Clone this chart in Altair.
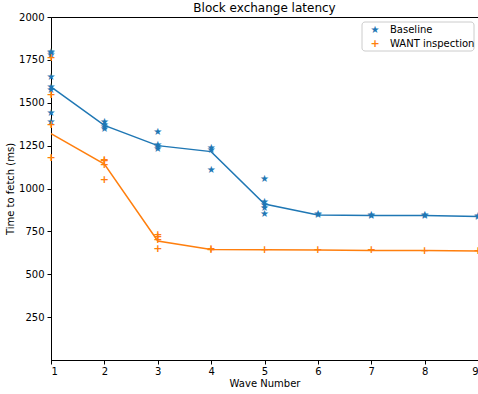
import altair as alt
import pandas as pd

# ---- data ----
series_names = ["Baseline", "WANT inspection"]
series_glyphs = ["★", "+"]

baseline_waves = [1, 1, 1, 1, 1, 1, 1, 1,
                  2, 2, 2, 2,
                  3, 3, 3, 3,
                  4, 4, 4,
                  5, 5, 5, 5, 5,
                  6, 6, 7, 7, 8, 8, 9, 9]
baseline_vals = [1797, 1788, 1778, 1651, 1593, 1574, 1438, 1389,
                 1389, 1370, 1356, 1345,
                 1331, 1253, 1243, 1228,
                 1234, 1224, 1108,
                 1055, 923, 904, 888, 851,
                 850, 845, 843, 842, 843, 840, 838, 835]

want_waves = [1, 1, 1, 1,
              2, 2, 2, 2,
              3, 3, 3, 3,
              4, 4, 5, 6, 7, 8, 9]
want_vals = [1759, 1545, 1370, 1176,
             1166, 1160, 1137, 1049,
             729, 715, 700, 647,
             645, 643, 643, 641, 639, 638, 635]

line_waves = [1, 2, 3, 4, 5, 6, 7, 8, 9]
baseline_line = [1592, 1368, 1250, 1215, 909, 846, 843, 842, 837]
want_line = [1320, 1142, 694, 645, 643, 641, 639, 638, 635]

y_ticks = [250, 500, 750, 1000, 1250, 1500, 1750, 2000]
x_ticks = [1, 2, 3, 4, 5, 6, 7, 8, 9]

colors = ["#1f77b4", "#ff7f0e"]

pts_b = pd.DataFrame({"wave": baseline_waves, "ms": baseline_vals,
                      "g": [series_glyphs[0]] * len(baseline_vals)})
pts_w = pd.DataFrame({"wave": want_waves, "ms": want_vals,
                      "g": [series_glyphs[1]] * len(want_vals)})
line_b = pd.DataFrame({"wave": line_waves, "ms": baseline_line})
line_w = pd.DataFrame({"wave": line_waves, "ms": want_line})

FONT = "DejaVu Sans"

x_enc = alt.X("wave:Q", title="Wave Number",
              scale=alt.Scale(domain=[1, 9], nice=False, zero=False),
              axis=alt.Axis(values=x_ticks, format="d", labelPadding=2, titlePadding=2))
y_enc = alt.Y("ms:Q", title="Time to fetch (ms)",
              scale=alt.Scale(domain=[0, 2000], nice=False),
              axis=alt.Axis(values=y_ticks, format="d", labelPadding=3, titlePadding=3))

line1 = alt.Chart(line_b).mark_line(strokeWidth=1.5, color=colors[0]).encode(x=x_enc, y=y_enc)
line2 = alt.Chart(line_w).mark_line(strokeWidth=1.5, color=colors[1]).encode(x=x_enc, y=y_enc)

# markers drawn as glyphs (star and plus)
pt1 = alt.Chart(pts_b).mark_text(font=FONT, fontSize=10, color=colors[0],
                                 align="center", baseline="middle").encode(
    x=x_enc, y=y_enc, text="g:N")
pt2 = alt.Chart(pts_w).mark_text(font=FONT, fontSize=11, fontWeight="bold", color=colors[1],
                                 align="center", baseline="middle").encode(
    x=x_enc, y=y_enc, text="g:N")

# ---- legend (drawn as marks, placed in the top-right corner of the plot) ----
legend_box = alt.Chart(pd.DataFrame({"k": [0]})).mark_rect(
    fill="white", stroke="#cccccc", strokeWidth=1, cornerRadius=3
).encode(x=alt.value(311), x2=alt.value(423), y=alt.value(5), y2=alt.value(34))

legend_layers = []
for i, name in enumerate(series_names):
    row = pd.DataFrame({"label": [name], "g": [series_glyphs[i]]})
    ypix = 13 + 14 * i
    legend_layers.append(
        alt.Chart(row).mark_text(font=FONT, fontSize=10 if i == 0 else 11,
                                 fontWeight="normal" if i == 0 else "bold",
                                 color=colors[i], align="center", baseline="middle")
        .encode(text="g:N", x=alt.value(324), y=alt.value(ypix))
    )
    legend_layers.append(
        alt.Chart(row).mark_text(align="left", baseline="middle", font=FONT, fontSize=10,
                                 color="black")
        .encode(text="label:N", x=alt.value(339), y=alt.value(ypix))
    )

chart = alt.layer(line1, line2, pt1, pt2, legend_box, *legend_layers).properties(
    width=427, height=343,
    title=alt.Title("Block exchange latency", offset=4, dy=7),
    autosize=alt.AutoSizeParams(type="none"),
    padding={"left": 51, "top": 17, "right": 0, "bottom": 34},
).configure_view(
    stroke="black", strokeWidth=1
).configure_title(
    fontSize=12, font=FONT, fontWeight="normal", color="black"
).configure_axis(
    grid=False, domainColor="black", tickColor="black", tickSize=4,
    labelFont=FONT, labelFontSize=10, labelColor="black",
    titleFont=FONT, titleFontSize=10, titleColor="black", titleFontWeight="normal",
)

chart.save("out.html", embed_options={"renderer": "svg", "actions": False})
